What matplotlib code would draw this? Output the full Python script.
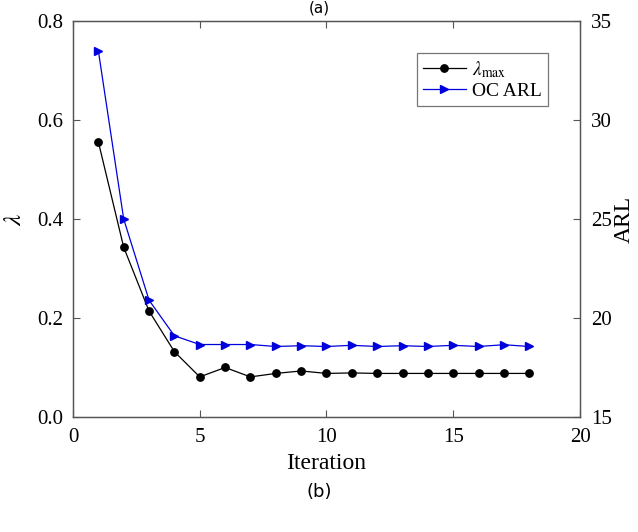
import matplotlib
matplotlib.use("Agg")
import matplotlib.pyplot as plt

iterations = list(range(1, 19))
lambda_max = [0.556, 0.343, 0.214, 0.132, 0.081, 0.100, 0.081, 0.088, 0.093,
              0.088, 0.089, 0.088, 0.088, 0.088, 0.088, 0.088, 0.088, 0.088]
oc_arl = [33.5, 25.0, 20.9, 19.1, 18.66, 18.66, 18.66, 18.56, 18.6,
          18.56, 18.62, 18.56, 18.6, 18.56, 18.62, 18.56, 18.65, 18.56]

plt.rcParams['font.family'] = ['Liberation Serif', 'DejaVu Serif']
plt.rcParams['mathtext.fontset'] = 'stix'

fig = plt.figure(figsize=(6.38, 5.32), dpi=100)
ax = fig.add_axes([0.1144, 0.2162, 0.7947, 0.7443])
ax2 = ax.twinx()

l1, = ax.plot(iterations, lambda_max, color='black', lw=0.9, marker='o', ms=5.3,
              label=r'$\lambda_{\rm max}$')
l2, = ax2.plot(iterations, oc_arl, color='#0000dd', lw=0.9, marker='>', ms=6.3,
               label='OC ARL')

ax.set_xlim(0, 20)
ax.set_ylim(0, 0.8)
ax2.set_ylim(15, 35)
ax.set_xticks([0, 5, 10, 15, 20])
ax.set_yticks([0.0, 0.2, 0.4, 0.6, 0.8])
ax.set_yticklabels(['0.0', '0.2', '0.4', '0.6', '0.8'])
ax2.set_yticks([15, 20, 25, 30, 35])

for a in (ax, ax2):
    for s in a.spines.values():
        s.set_color('#555555')
        s.set_linewidth(0.9)
ax.tick_params(axis='y', direction='in', labelsize=15, length=5, color='#555555', pad=7)
ax.tick_params(axis='x', direction='in', top=True, labelsize=15, length=5, color='#555555', pad=8)
ax2.tick_params(direction='in', labelsize=15, length=5, color='#555555', pad=8)

ax.set_xlabel('Iteration', fontsize=17, labelpad=4)
ax.set_ylabel(r'$\lambda$', fontsize=18, labelpad=8)
ax2.set_ylabel('ARL', fontsize=17, labelpad=1)

leg = ax.legend(handles=[l1, l2], loc='upper right', bbox_to_anchor=(0.937, 0.919),
                borderaxespad=0, fontsize=14, frameon=True, fancybox=False,
                edgecolor='#555555', handlelength=2.2, borderpad=0.3,
                labelspacing=0.15, handletextpad=0.35)
leg.get_frame().set_linewidth(0.9)

fig.text(0.5, 0.999, '(a)', ha='center', va='top', fontsize=11, family='DejaVu Sans')
fig.text(0.5, 0.075, '(b)', ha='center', va='center', fontsize=13, family='DejaVu Sans')

fig.savefig('out.png', dpi=100)
